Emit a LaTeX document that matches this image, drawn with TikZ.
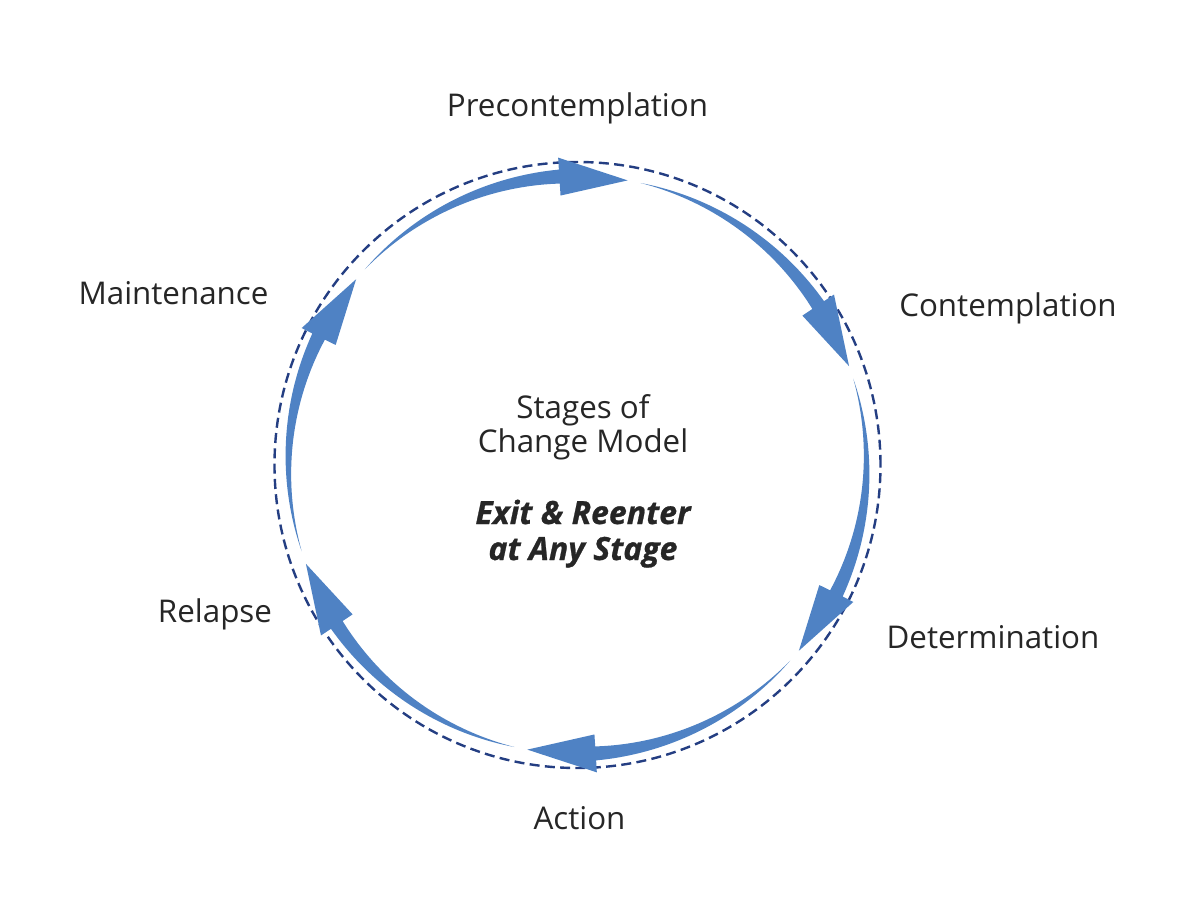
\documentclass[tikz,border=0pt]{standalone}
\usepackage{fontspec}
\setmainfont{Open Sans}
\newfontfamily\heavyfont{Open Sans}[BoldItalicFeatures={FakeBold=0.8}]
\definecolor{arrowblue}{RGB}{79,130,196}
\definecolor{guidenavy}{RGB}{36,62,130}
\definecolor{txtgray}{RGB}{38,38,38}
\begin{document}
\begin{tikzpicture}[x=0.75pt,y=0.75pt,
  stagelabel/.style={font=\fontsize{23.5}{28}\selectfont, text=txtgray, anchor=base, inner sep=0pt},
  centretext/.style={font=\fontsize{23.5}{28}\selectfont, text=txtgray, anchor=base, inner sep=0pt},
  centrebold/.style={font=\heavyfont\fontsize{24}{28}\selectfont\bfseries\itshape, text=txtgray, anchor=base, inner sep=0pt},
  guide/.style={draw=guidenavy, line width=1.8pt, dash pattern=on 7.5pt off 4pt},
  cyclearrow/.style={fill=arrowblue, draw=none}]
\useasboundingbox (-577.5,-435) rectangle (622.5,465);
% dashed guide circle
\draw[guide] (0,0) circle[radius=227.25pt];
% six tapered cycle arrows
\foreach \k in {0,...,5}{
  \pgfmathsetmacro{\angS}{137.4-60*\k}
  \pgfmathsetmacro{\angB}{93.6-60*\k}
  \pgfmathsetmacro{\angT}{80-60*\k}
  \fill[cyclearrow]
    plot[domain=0:1,samples=40,variable=\u] ({\angS+(\angB-\angS)*\u}:{289+7*\u})
    -- (\angB:308) -- (\angT:289) -- (\angB:270)
    -- plot[domain=1:0,samples=40,variable=\u] ({\angS+(\angB-\angS)*\u}:{289-7*\u})
    -- cycle;
}
% stage labels
\node[stagelabel] (pre)  at (0,348)      {Precontemplation};
\node[stagelabel] (con)  at (430.5,148)  {Contemplation};
\node[stagelabel] (det)  at (415.5,-183) {Determination};
\node[stagelabel] (act)  at (2,-364)     {Action};
\node[stagelabel] (rel)  at (-362.5,-157){Relapse};
\node[stagelabel] (mai)  at (-404,161)   {Maintenance};
% centre text
\node[centretext] (t1) at (5.5,47)  {Stages of};
\node[centretext] (t2) at (5.5,13)  {Change Model};
\node[centrebold] (t3) at (5.5,-59) {Exit \& Reenter};
\node[centrebold] (t4) at (5.5,-95) {at Any Stage};
\end{tikzpicture}
\end{document}
